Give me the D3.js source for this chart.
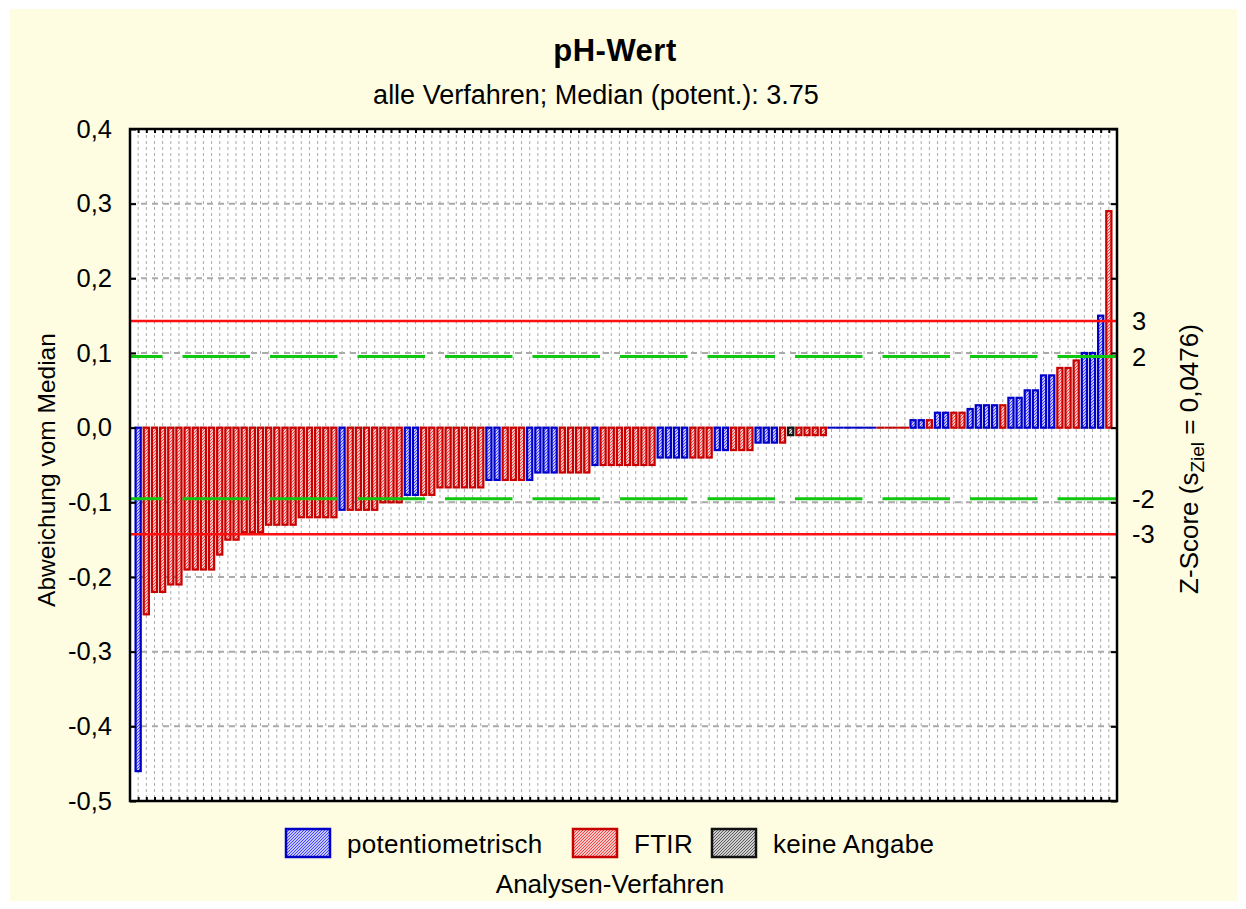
<!DOCTYPE html>
<html>
<head>
<meta charset="utf-8">
<script src="https://cdn.jsdelivr.net/npm/d3@7"></script>
<style>
  body { margin: 0; background: #fff; }
  text { font-family: "Liberation Sans", Arial, sans-serif; fill: #000; }
</style>
</head>
<body>
<div id="chart"></div>
<script>
// deviation from median (pH), sorted as in the original
const values = [
  -0.46, -0.25, -0.22, -0.22, -0.21, -0.21, -0.19, -0.19, -0.19, -0.19,
  -0.17, -0.15, -0.15, -0.14, -0.14, -0.14, -0.13, -0.13, -0.13, -0.13,
  -0.12, -0.12, -0.12, -0.12, -0.12, -0.11, -0.11, -0.11, -0.11, -0.11,
  -0.10, -0.10, -0.10, -0.09, -0.09, -0.09, -0.09, -0.08, -0.08, -0.08,
  -0.08, -0.08, -0.08, -0.07, -0.07, -0.07, -0.07, -0.07, -0.07, -0.06,
  -0.06, -0.06, -0.06, -0.06, -0.06, -0.06, -0.05, -0.05, -0.05, -0.05,
  -0.05, -0.05, -0.05, -0.05, -0.04, -0.04, -0.04, -0.04, -0.04, -0.04,
  -0.04, -0.03, -0.03, -0.03, -0.03, -0.03, -0.02, -0.02, -0.02, -0.02,
  -0.01, -0.01, -0.01, -0.01, -0.01, 0, 0, 0, 0, 0,
  0, 0, 0, 0, 0, 0.01, 0.01, 0.01, 0.02, 0.02,
  0.02, 0.02, 0.025, 0.03, 0.03, 0.03, 0.03, 0.04, 0.04, 0.05,
  0.05, 0.07, 0.07, 0.08, 0.08, 0.09, 0.10, 0.10, 0.15, 0.29
];
// P = potentiometrisch, F = FTIR, K = keine Angabe
const methods = [
  "P", "F", "F", "F", "F", "F", "F", "F", "F", "F",
  "F", "F", "F", "F", "F", "F", "F", "F", "F", "F",
  "F", "F", "F", "F", "F", "P", "F", "F", "F", "F",
  "F", "F", "F", "P", "P", "F", "F", "F", "F", "F",
  "F", "F", "F", "P", "P", "F", "F", "F", "P", "P",
  "P", "P", "F", "F", "F", "F", "P", "F", "F", "F",
  "F", "F", "F", "F", "P", "P", "P", "P", "F", "F",
  "F", "P", "P", "F", "F", "F", "P", "P", "P", "F",
  "K", "F", "F", "F", "F", "P", "P", "P", "P", "P",
  "P", "F", "F", "F", "F", "P", "P", "F", "P", "P",
  "F", "F", "P", "P", "P", "P", "F", "P", "P", "P",
  "P", "P", "P", "F", "F", "F", "P", "P", "P", "F"
];
const methodKeys = ["P", "F", "K"];
const methodNames = ["potentiometrisch", "FTIR", "keine Angabe"];
const yTicks = [-0.5, -0.4, -0.3, -0.2, -0.1, 0.0, 0.1, 0.2, 0.3, 0.4];
const sZiel = 0.0476;
const zLevels = [3, 2, -2, -3];

const width = 1246, height = 909;
const colors = { P: "#0000c8", F: "#c80000", K: "#111111" };
const hatch = { P: "#3a3aff", F: "#f03a3a", K: "#555555" };

const svg = d3.select("#chart").append("svg")
  .attr("width", width).attr("height", height);

svg.append("rect")
  .attr("x", 10).attr("y", 9).attr("width", 1227).attr("height", 892)
  .attr("fill", "#fefde2");

const defs = svg.append("defs");
methodKeys.forEach(k => {
  const p = defs.append("pattern")
    .attr("id", "hatch-" + k)
    .attr("patternUnits", "userSpaceOnUse")
    .attr("width", 3).attr("height", 3);
  p.append("rect").attr("width", 3).attr("height", 3).attr("fill", "#fff");
  p.append("path")
    .attr("d", "M-1,1 l2,-2 M0,3 l3,-3 M2,4 l2,-2")
    .attr("stroke", hatch[k]).attr("stroke-width", 1.1);
});

const pLeft = 130, pRight = 1117, pTop = 129, pBottom = 801;
const x = d3.scaleLinear().domain([0, values.length + 1]).range([pLeft, pRight]);
const y = d3.scaleLinear().domain([-0.5, 0.4]).range([pBottom, pTop]);
const bw = x(1) - x(0);

const loc = d3.formatLocale({ decimal: ",", thousands: ".", grouping: [3], currency: ["", ""], minus: "-" });
const fmt = loc.format(".1f");

// plot background
svg.append("rect")
  .attr("x", pLeft).attr("y", pTop)
  .attr("width", pRight - pLeft).attr("height", pBottom - pTop)
  .attr("fill", "#fff");

const idx = d3.range(1, values.length + 1);

// vertical grid
svg.append("g").selectAll("line")
  .data(idx).join("line")
  .attr("x1", d => x(d)).attr("x2", d => x(d))
  .attr("y1", pTop).attr("y2", pBottom)
  .attr("stroke", "#aaa").attr("stroke-width", 1)
  .attr("stroke-dasharray", "3,3");

// horizontal grid
svg.append("g").selectAll("line")
  .data(yTicks.filter(d => d > -0.5 && d < 0.4)).join("line")
  .attr("x1", pLeft).attr("x2", pRight)
  .attr("y1", d => y(d)).attr("y2", d => y(d))
  .attr("stroke", "#aaa").attr("stroke-width", 2)
  .attr("stroke-dasharray", "6,5");

// bars
const bars = values.map((v, i) => ({ i: i + 1, v: v, m: methods[i] }));
svg.append("g").selectAll("rect")
  .data(bars.filter(d => d.v !== 0)).join("rect")
  .attr("x", d => x(d.i) - bw / 2 + 1.5)
  .attr("width", bw - 3.0)
  .attr("y", d => y(Math.max(0, d.v)))
  .attr("height", d => Math.abs(y(d.v) - y(0)))
  .attr("fill", d => `url(#hatch-${d.m})`)
  .attr("stroke", d => colors[d.m])
  .attr("stroke-width", 2.2);

svg.append("g").selectAll("line")
  .data(bars.filter(d => d.v === 0)).join("line")
  .attr("x1", d => x(d.i) - bw / 2).attr("x2", d => x(d.i) + bw / 2)
  .attr("y1", y(0)).attr("y2", y(0))
  .attr("stroke", d => colors[d.m]).attr("stroke-width", 2);

// z-score limits
svg.append("g").selectAll("line")
  .data(zLevels).join("line")
  .attr("x1", pLeft).attr("x2", pRight)
  .attr("y1", d => y(d * sZiel)).attr("y2", d => y(d * sZiel))
  .attr("stroke", d => Math.abs(d) === 3 ? "#ff1010" : "#10c810")
  .attr("stroke-width", d => Math.abs(d) === 3 ? 2.5 : 3)
  .attr("stroke-dasharray", d => Math.abs(d) === 3 ? null : "67.5,20")
  .attr("stroke-dashoffset", d => Math.abs(d) === 3 ? null : 35);

// axes
const gl = svg.append("g").attr("transform", `translate(${pLeft},0)`)
  .call(d3.axisLeft(y).tickValues(yTicks).tickSize(-6).tickPadding(18).tickFormat(fmt));
const gr = svg.append("g").attr("transform", `translate(${pRight},0)`)
  .call(d3.axisRight(y).tickValues(yTicks).tickSize(-6).tickFormat(""));
const gb = svg.append("g").attr("transform", `translate(0,${pBottom})`)
  .call(d3.axisBottom(x).tickValues(idx).tickSize(-4).tickFormat(""));
const gt = svg.append("g").attr("transform", `translate(0,${pTop})`)
  .call(d3.axisTop(x).tickValues(idx).tickSize(-4).tickFormat(""));
[gl, gr, gb, gt].forEach(g => {
  g.select(".domain").remove();
  g.selectAll(".tick line").attr("stroke", "#000").attr("stroke-width", 2);
});
gl.selectAll(".tick text").attr("font-size", 25.5).attr("font-family", "Liberation Sans, Arial, sans-serif");

svg.append("rect")
  .attr("x", pLeft).attr("y", pTop)
  .attr("width", pRight - pLeft).attr("height", pBottom - pTop)
  .attr("fill", "none").attr("stroke", "#000").attr("stroke-width", 2.5);

// z-score labels on the right
svg.append("g").selectAll("text")
  .data(zLevels).join("text")
  .attr("x", 1132).attr("y", d => y(d * sZiel))
  .attr("dy", "0.36em")
  .attr("font-size", 25.5)
  .text(d => d);

// titles
svg.append("text")
  .attr("x", 615).attr("y", 61)
  .attr("text-anchor", "middle")
  .attr("font-size", 31).attr("font-weight", "bold")
  .attr("letter-spacing", 0.5)
  .text("pH-Wert");
svg.append("text")
  .attr("x", 596).attr("y", 104)
  .attr("text-anchor", "middle")
  .attr("font-size", 27)
  .text("alle Verfahren; Median (potent.): 3.75");

svg.append("text")
  .attr("transform", "translate(55,470) rotate(-90)")
  .attr("text-anchor", "middle")
  .attr("font-size", 24.5)
  .text("Abweichung vom Median");

const zt = svg.append("text")
  .attr("transform", "translate(1198,459) rotate(-90)")
  .attr("text-anchor", "middle")
  .attr("font-size", 26);
zt.append("tspan").text("Z-Score (s");
zt.append("tspan").attr("font-size", 19).attr("dy", 6).text("Ziel");
zt.append("tspan").attr("dy", -6).text(" = 0,0476)");

// legend
const legendX = [286, 573, 712];
const lg = svg.append("g");
methodKeys.forEach((k, i) => {
  lg.append("rect")
    .attr("x", legendX[i]).attr("y", 829)
    .attr("width", 44).attr("height", 28)
    .attr("fill", `url(#hatch-${k})`)
    .attr("stroke", colors[k]).attr("stroke-width", 2.5);
  lg.append("text")
    .attr("x", legendX[i] + 61).attr("y", 853)
    .attr("font-size", 26)
    .attr("letter-spacing", 0.3)
    .text(methodNames[i]);
});
svg.append("text")
  .attr("x", 610).attr("y", 893)
  .attr("text-anchor", "middle")
  .attr("font-size", 26)
  .text("Analysen-Verfahren");
</script>
</body>
</html>
